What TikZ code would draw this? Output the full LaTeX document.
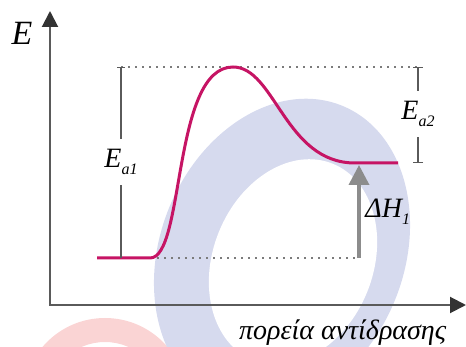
\documentclass[tikz,border=0pt]{standalone}
\usepackage{fontspec}
\setmainfont{Liberation Serif}
\usepackage{tikz}
\usetikzlibrary{arrows.meta,positioning}
\definecolor{CurveMagenta}{RGB}{198,20,100}
\definecolor{AxisGray}{RGB}{90,90,90}
\definecolor{ArrowGray}{RGB}{140,140,140}
\definecolor{WaterBlue}{RGB}{214,218,238}
\definecolor{WaterPink}{RGB}{250,212,212}
\tikzset{
  axisline/.style={draw=AxisGray, line width=1pt,
    {Triangle[length=8pt,width=8pt,color=black!80]}-{Triangle[length=8pt,width=8pt,color=black!80]}},
  levelline/.style={draw=AxisGray!80, line width=0.6pt, dash pattern=on 1pt off 2.5pt},
  barline/.style={draw=AxisGray, line width=0.7pt},
  barlabel/.style={font=\fontsize{14}{16}\selectfont\itshape, inner xsep=1pt, inner ysep=5pt},
}
\newcommand{\lowsub}[1]{\raisebox{-0.55ex}{\fontsize{8}{8}\selectfont #1}}

\begin{document}
\begin{tikzpicture}[x=0.5pt, y=-0.5pt]
\useasboundingbox (0,0) rectangle (466,347);

% watermark in the background
\begin{scope}
  \clip (0,0) rectangle (466,347);
  \fill[WaterPink, even odd rule] (105,400) circle [radius=82] (105,400) circle [radius=58];
  \fill[WaterBlue, rotate around={-22:(282,254)}] (282,254) ellipse [x radius=122, y radius=160];
  \fill[white, rotate around={-22:(293,262)}] (293,262) ellipse [x radius=80, y radius=106];
\end{scope}

% axes
\coordinate (O) at (50,305);
\coordinate (ytip) at (50,11);
\coordinate (xtip) at (466,305);
\draw[axisline] (ytip) -- (O) -- (xtip);
\node[font=\fontsize{17}{20}\selectfont\itshape] (elabel) at (22,33) {E};
\node[font=\fontsize{14}{17}\selectfont\itshape, anchor=base west] (xlabel) at (232,340) {πορεία αντίδρασης};

% energy levels
\coordinate (start) at (97,258);
\coordinate (flatend) at (150,258);
\coordinate (peak) at (233,67);
\coordinate (plateau) at (355,163);
\coordinate (prod) at (398,163);
\coordinate (ea1top) at (121,67);
\coordinate (ea1bot) at (121,258);
\coordinate (ea2top) at (418,67);
\coordinate (ea2bot) at (418,163);
\coordinate (dhbot) at (359,258);
\coordinate (dhtop) at (359,165);
\coordinate (dhmid) at (359,212);

\draw[levelline] (ea1top) -- (ea2top);
\draw[levelline] (flatend) -- (dhbot);

% reaction curve
\draw[CurveMagenta, line width=1.5pt] (start) -- (flatend)
  .. controls (185,258) and (172,67) .. (peak)
  .. controls (275,67) and (285,163) .. (plateau) -- (prod);

% activation energies
\node[barlabel] (ea1) at (121,162) {E\lowsub{a1}};
\draw[barline, -{Bar[width=4pt]}] (ea1.north) -- (ea1top);
\draw[barline] (ea1.south) -- (ea1bot);
\node[barlabel] (ea2) at (418,114) {E\lowsub{a2}};
\draw[barline, -{Bar[width=5pt]}] (ea2.north) -- (ea2top);
\draw[barline, -{Bar[width=5pt]}] (ea2.south) -- (ea2bot);

% enthalpy change
\draw[ArrowGray, line width=1.8pt, -{Triangle[length=10pt,width=10pt]}] (dhbot) -- (dhtop);
\node[barlabel, right=2pt of dhmid] (dh) {ΔH\lowsub{1}};
\end{tikzpicture}
\end{document}
